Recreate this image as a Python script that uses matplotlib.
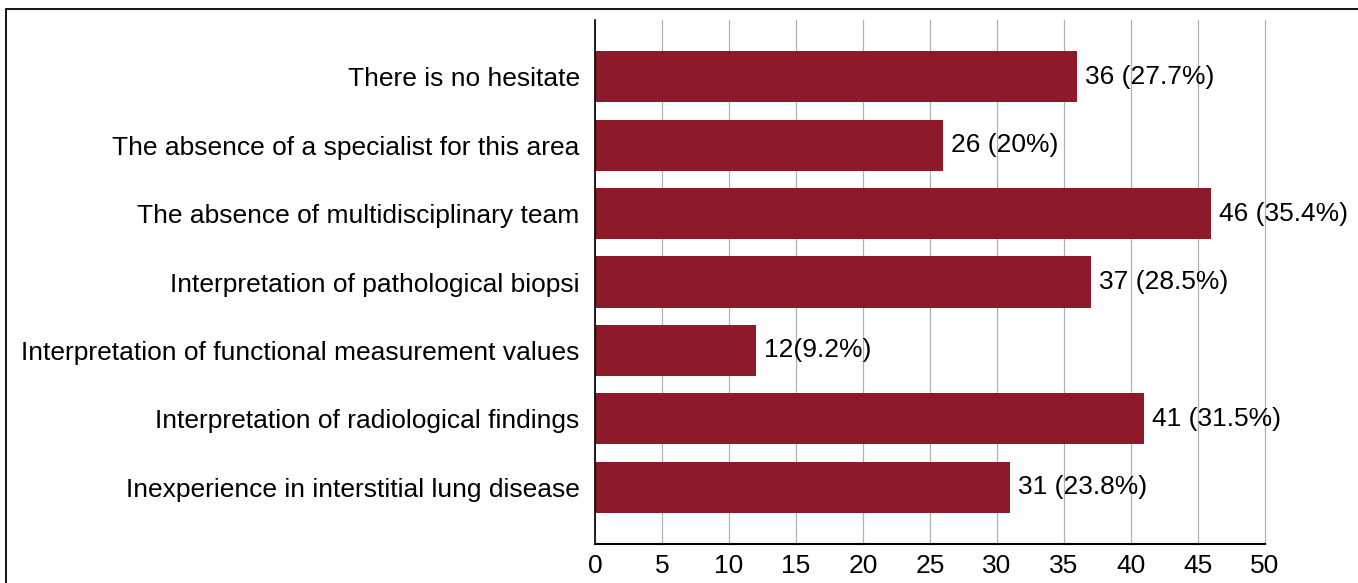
import numpy as np
import matplotlib.pyplot as plt
from matplotlib.patches import Rectangle

categories = [
    "There is no hesitate",
    "The absence of a specialist for this area",
    "The absence of multidisciplinary team",
    "Interpretation of pathological biopsi",
    "Interpretation of functional measurement values",
    "Interpretation of radiological findings",
    "Inexperience in interstitial lung disease",
]
counts = [36, 26, 46, 37, 12, 41, 31]
bar_labels = ["36 (27.7%)", "26 (20%)", "46 (35.4%)", "37 (28.5%)",
              "12(9.2%)", "41 (31.5%)", "31 (23.8%)"]
xticks = [0, 5, 10, 15, 20, 25, 30, 35, 40, 45, 50]

plt.rcParams['font.family'] = ['Liberation Sans', 'DejaVu Sans']
FS = 19

fig = plt.figure(figsize=(13.58, 5.83), dpi=100)
W, H = 1358, 583
ax = fig.add_axes([595 / W, 1 - 544 / H, (1265 - 595) / W, (544 - 20) / H])

# outer frame, cut off at right and bottom like the reference
fig.patches.append(Rectangle((6 / W, -0.1), 1.2, 1 - 9 / H + 0.1,
                             transform=fig.transFigure, fill=False,
                             edgecolor='black', linewidth=1.3))

y = np.arange(len(categories))
ax.barh(y, counts, height=0.75, color='#8E1A29', zorder=2)
for yi, c, lab in zip(y, counts, bar_labels):
    ax.text(c + 0.6, yi, lab, va='center', ha='left', fontsize=FS, zorder=3)

ax.set_yticks(y)
ax.set_yticklabels(categories, fontsize=FS)
ax.set_ylim(6.83, -0.83)
ax.set_xlim(0, 50)
ax.set_xticks(xticks)
ax.set_xticklabels([str(t) for t in xticks], fontsize=FS)
ax.tick_params(length=0)
ax.tick_params(axis='x', pad=7)
ax.tick_params(axis='y', pad=11)
ax.grid(axis='x', color='#b0b0b0', linewidth=0.9, zorder=0, clip_on=False)
ax.set_axisbelow(True)
for s in ['top', 'right']:
    ax.spines[s].set_visible(False)
ax.spines['left'].set_linewidth(1.2)
ax.spines['bottom'].set_linewidth(1.5)

fig.savefig('out.png', dpi=100)
